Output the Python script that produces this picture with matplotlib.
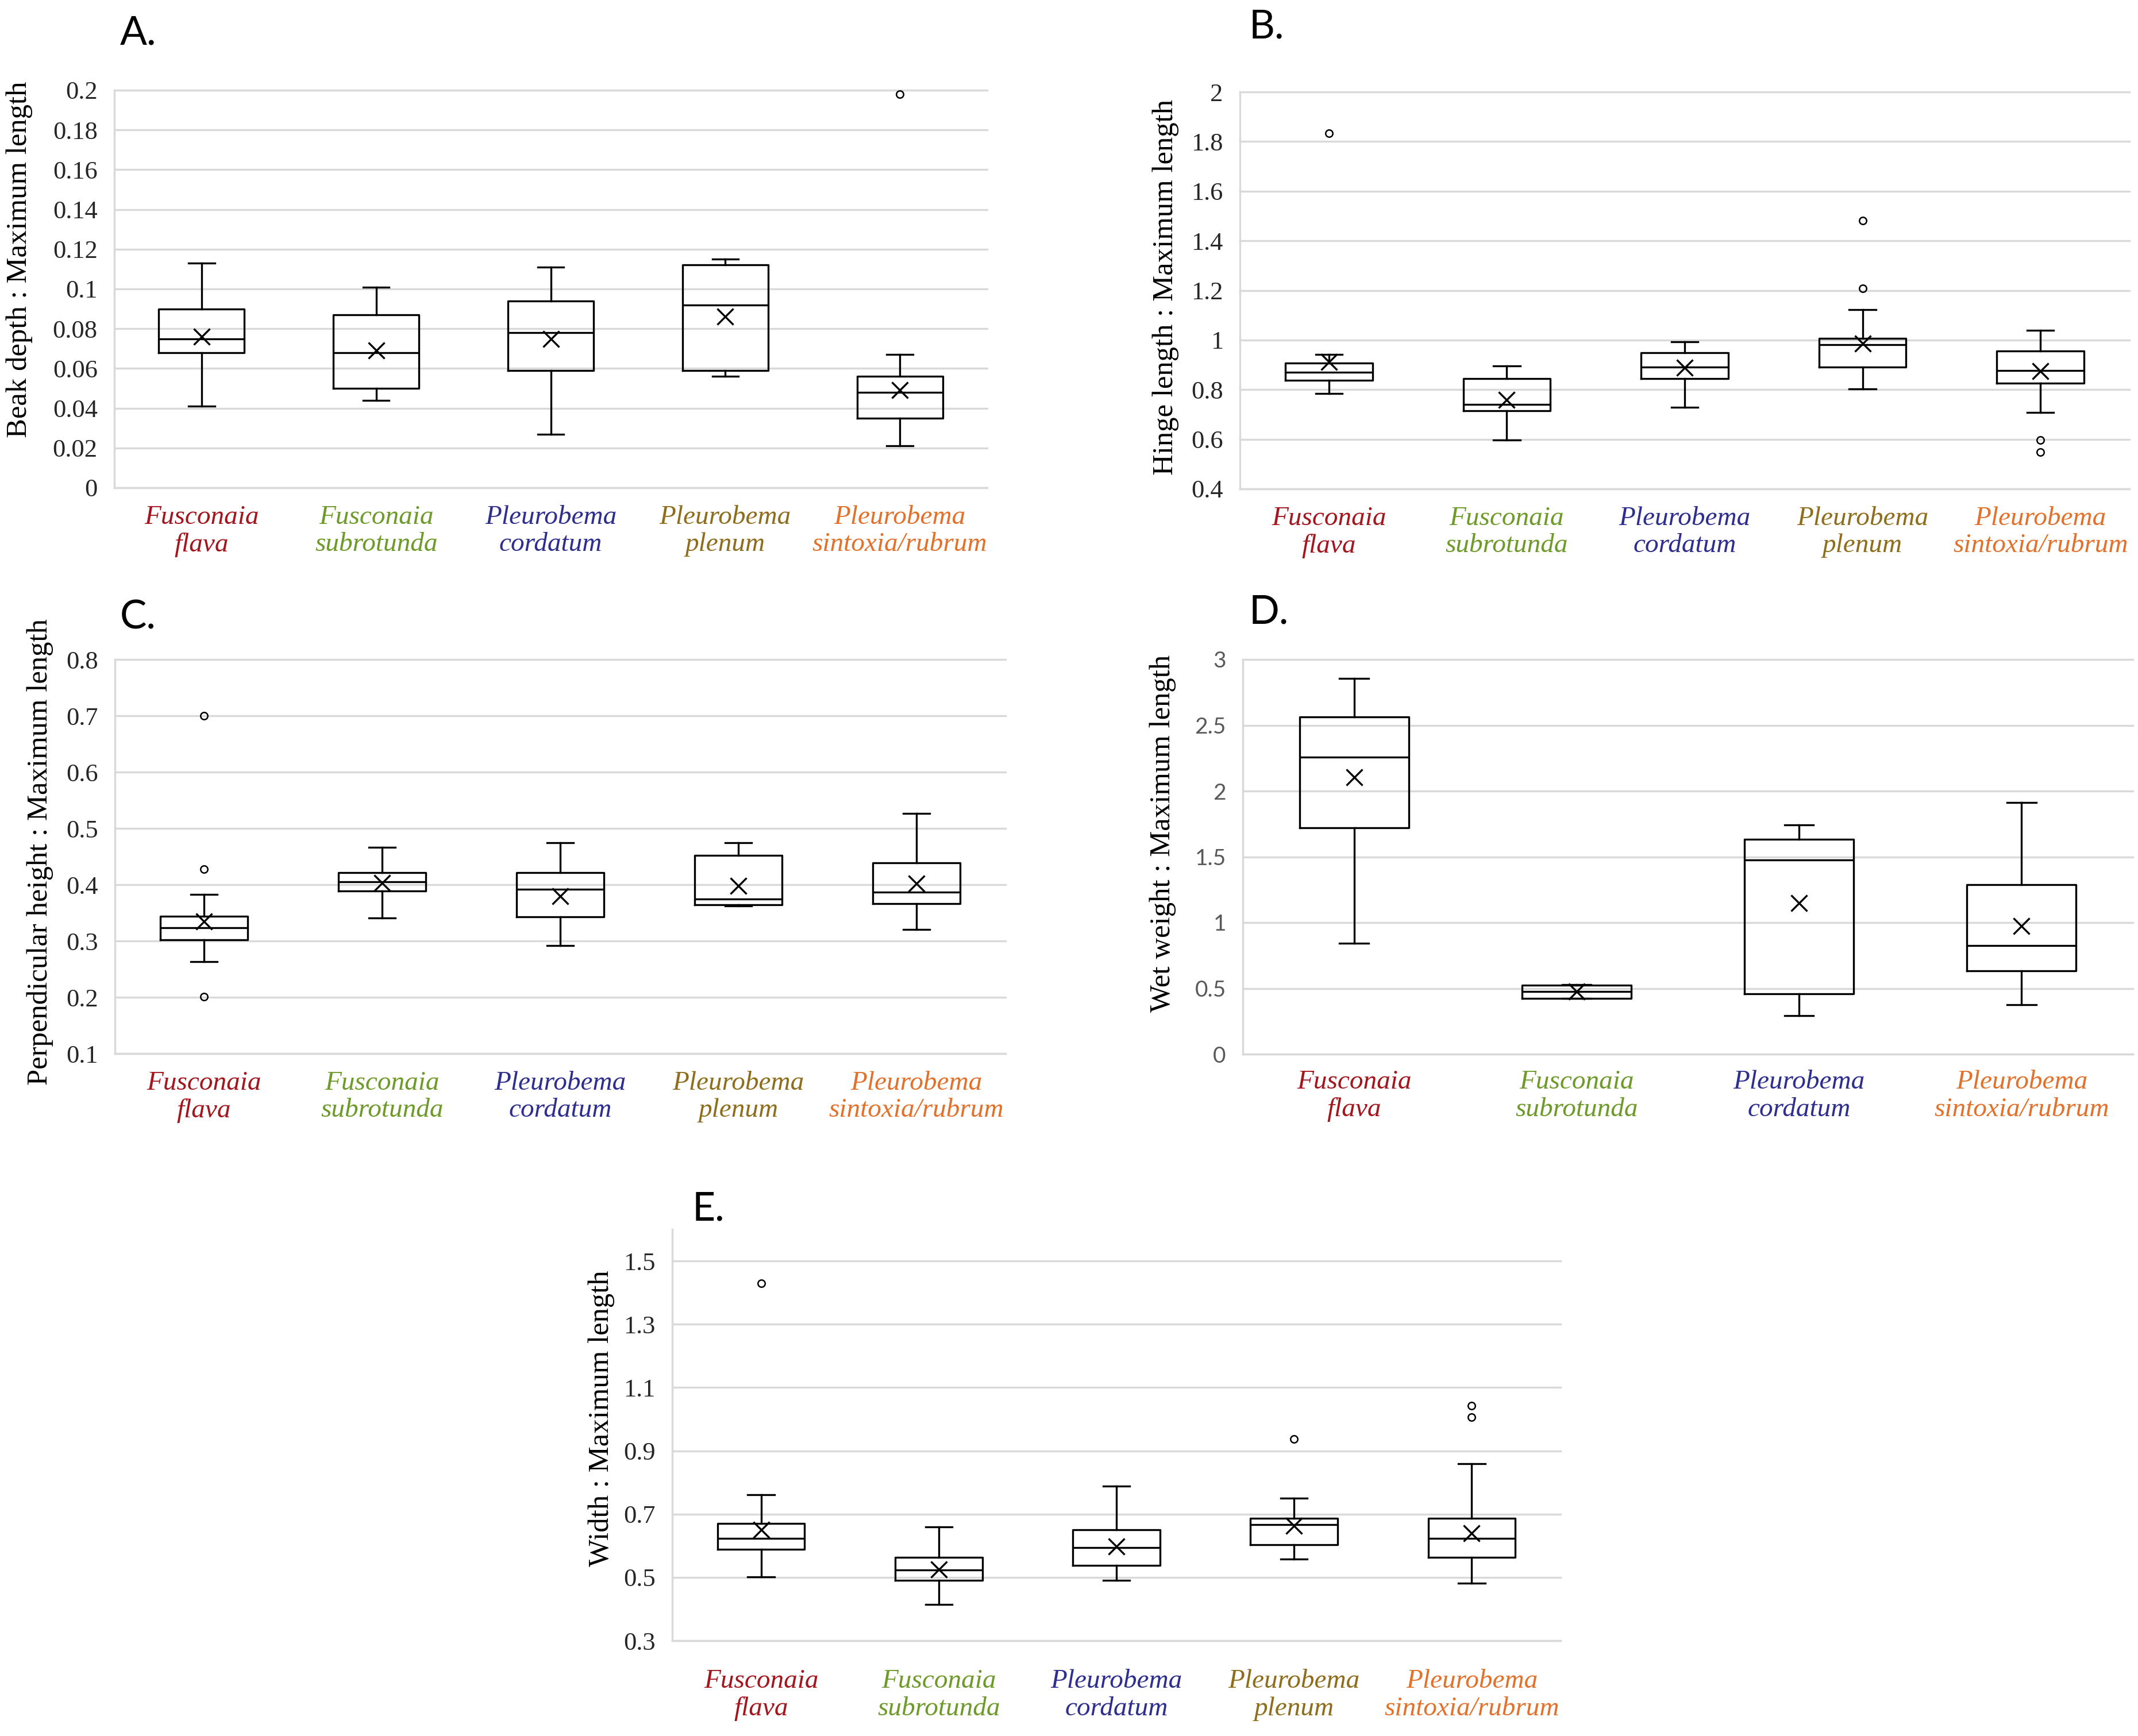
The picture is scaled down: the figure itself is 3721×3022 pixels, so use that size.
import matplotlib
matplotlib.use("Agg")
import matplotlib.pyplot as plt
from matplotlib.font_manager import FontProperties
import numpy as np

# ---------------- data ----------------
species5 = ["Fusconaia\nflava", "Fusconaia\nsubrotunda", "Pleurobema\ncordatum",
            "Pleurobema\nplenum", "Pleurobema\nsintoxia/rubrum"]
colors5 = ["#A3161E", "#6E9A2A", "#2E2E8E", "#8E6E1C", "#E2712C"]
species4 = ["Fusconaia\nflava", "Fusconaia\nsubrotunda", "Pleurobema\ncordatum",
            "Pleurobema\nsintoxia/rubrum"]
colors4 = ["#A3161E", "#6E9A2A", "#2E2E8E", "#E2712C"]

# A. Beak depth : Maximum length
a_lo   = [0.041, 0.044, 0.027, 0.056, 0.021]
a_q1   = [0.068, 0.050, 0.059, 0.059, 0.035]
a_med  = [0.075, 0.068, 0.078, 0.092, 0.048]
a_q3   = [0.090, 0.087, 0.094, 0.112, 0.056]
a_hi   = [0.113, 0.101, 0.111, 0.115, 0.067]
a_mean = [0.076, 0.069, 0.075, 0.086, 0.049]
a_out  = [[], [], [], [], [0.198]]

# B. Hinge length : Maximum length
b_lo   = [0.785, 0.597, 0.729, 0.804, 0.708]
b_q1   = [0.837, 0.714, 0.844, 0.892, 0.825]
b_med  = [0.871, 0.741, 0.892, 0.981, 0.877]
b_q3   = [0.908, 0.844, 0.948, 1.007, 0.956]
b_hi   = [0.941, 0.896, 0.993, 1.123, 1.040]
b_mean = [0.911, 0.759, 0.889, 0.985, 0.874]
b_out  = [[1.833], [], [], [1.481, 1.207], [0.597, 0.548]]

# C. Perpendicular height : Maximum length
c_lo   = [0.263, 0.341, 0.292, 0.362, 0.320]
c_q1   = [0.302, 0.389, 0.343, 0.364, 0.366]
c_med  = [0.323, 0.405, 0.392, 0.374, 0.387]
c_q3   = [0.344, 0.421, 0.421, 0.452, 0.439]
c_hi   = [0.383, 0.466, 0.475, 0.475, 0.527]
c_mean = [0.335, 0.403, 0.380, 0.398, 0.402]
c_out  = [[0.700, 0.428, 0.201], [], [], [], []]

# D. Wet weight : Maximum length
d_lo   = [0.844, 0.423, 0.292, 0.376]
d_q1   = [1.719, 0.423, 0.460, 0.632]
d_med  = [2.256, 0.474, 1.476, 0.827]
d_q3   = [2.563, 0.524, 1.635, 1.290]
d_hi   = [2.855, 0.529, 1.741, 1.914]
d_mean = [2.103, 0.474, 1.150, 0.975]
d_out  = [[], [], [], []]

# E. Width : Maximum length
e_lo   = [0.501, 0.415, 0.490, 0.557, 0.481]
e_q1   = [0.588, 0.490, 0.537, 0.603, 0.563]
e_med  = [0.624, 0.524, 0.594, 0.667, 0.624]
e_q3   = [0.671, 0.563, 0.650, 0.686, 0.686]
e_hi   = [0.762, 0.659, 0.788, 0.751, 0.859]
e_mean = [0.650, 0.526, 0.597, 0.664, 0.639]
e_out  = [[1.430], [], [], [0.938], [1.042, 1.006]]

# ---------------- figure ----------------
W, H = 3721, 3022
DPI = 100
fig = plt.figure(figsize=(W / DPI, H / DPI), dpi=DPI)
fig.patch.set_facecolor("white")

GRID = "#D9D9D9"
SERIF_FP = FontProperties(family="Liberation Serif", size=32)
ITAL_FP = FontProperties(family="Liberation Serif", style="italic", size=34)
YLAB_FP = FontProperties(family="Liberation Serif", size=36.5)
SANS_FP = FontProperties(family="Lato", size=28)
LETTER_FP = FontProperties(family="Lato", size=50)


def px_axes(x0, x1, y0, y1):
    return fig.add_axes([x0 / W, 1 - y1 / H, (x1 - x0) / W, (y1 - y0) / H])


def panel(rect, letter, letter_xy, lo, q1, med, q3, hi, mean, out, names, cols,
          ylim, yticks, yticklabels, ylabel, ylabel_xy, tick_fp, tick_color,
          xpad, capw):
    ax = px_axes(*rect)
    stats = []
    for i in range(len(names)):
        stats.append(dict(whislo=lo[i], q1=q1[i], med=med[i], q3=q3[i],
                          whishi=hi[i], mean=mean[i], fliers=out[i]))
    ax.bxp(stats, positions=np.arange(1, len(names) + 1), widths=0.49,
           capwidths=capw, showmeans=True, showfliers=True,
           boxprops=dict(color="black", linewidth=2.4),
           medianprops=dict(color="black", linewidth=2.4),
           whiskerprops=dict(color="black", linewidth=2.4),
           capprops=dict(color="black", linewidth=2.4),
           meanprops=dict(marker="x", markeredgecolor="black",
                          markerfacecolor="black", markersize=20,
                          markeredgewidth=2.4),
           flierprops=dict(marker="o", markerfacecolor="none",
                           markeredgecolor="black", markersize=9,
                           markeredgewidth=1.8),
           zorder=3)
    ax.set_xlim(0.5, len(names) + 0.5)
    ax.set_ylim(*ylim)
    ax.set_yticks(yticks)
    ax.set_yticklabels(yticklabels, fontproperties=tick_fp, color=tick_color)
    ax.set_xticks(np.arange(1, len(names) + 1))
    ax.set_xticklabels(names, fontproperties=ITAL_FP, linespacing=1.15)
    for t, c in zip(ax.get_xticklabels(), cols):
        t.set_color(c)
    ax.grid(axis="y", color=GRID, linewidth=2.4, zorder=0)
    ax.set_axisbelow(True)
    for gl in ax.get_ygridlines():
        gl.set_clip_on(False)
    for s in ["top", "right"]:
        ax.spines[s].set_visible(False)
    ax.spines["left"].set_color(GRID)
    ax.spines["left"].set_linewidth(2.4)
    ax.spines["bottom"].set_color(GRID)
    ax.spines["bottom"].set_linewidth(2.4)
    ax.tick_params(axis="both", length=0)
    ax.tick_params(axis="y", pad=21)
    ax.tick_params(axis="x", pad=xpad)
    ax.set_ylabel(ylabel, fontproperties=YLAB_FP, color="black",
                  va="center", ha="center")
    ax.yaxis.set_label_coords(ylabel_xy[0] / W, 1 - ylabel_xy[1] / H,
                              transform=fig.transFigure)
    fig.text(letter_xy[0] / W, 1 - letter_xy[1] / H, letter,
             fontproperties=LETTER_FP, ha="left", va="center", color="black")
    return ax


def fmt(vals, nd):
    out = []
    for v in vals:
        s = f"{v:.{nd}f}".rstrip("0").rstrip(".")
        out.append(s if s else "0")
    return out


a_ticks = np.round(np.arange(0, 0.2001, 0.02), 2)
panel((199, 1718, 157, 849), "A.", (209, 58),
      a_lo, a_q1, a_med, a_q3, a_hi, a_mean, a_out, species5, colors5,
      (0, 0.2), a_ticks, fmt(a_ticks, 2), "Beak depth : Maximum length",
      (34, 452), SERIF_FP, "#262626", 22, 0.15)

b_ticks = np.round(np.arange(0.4, 2.001, 0.2), 1)
panel((2158, 3706, 160, 851), "B.", (2174, 47),
      b_lo, b_q1, b_med, b_q3, b_hi, b_mean, b_out, species5, colors5,
      (0.4, 2.0), b_ticks, fmt(b_ticks, 1), "Hinge length : Maximum length",
      (2029, 500), SERIF_FP, "#262626", 22, 0.15)

c_ticks = np.round(np.arange(0.1, 0.8001, 0.1), 1)
panel((200, 1750, 1148, 1834), "C.", (209, 1075),
      c_lo, c_q1, c_med, c_q3, c_hi, c_mean, c_out, species5, colors5,
      (0.1, 0.8), c_ticks, fmt(c_ticks, 1),
      "Perpendicular height : Maximum length",
      (70, 1483), SERIF_FP, "#262626", 22, 0.15)

d_ticks = np.round(np.arange(0, 3.001, 0.5), 1)
panel((2163, 3712, 1148, 1835), "D.", (2174, 1066),
      d_lo, d_q1, d_med, d_q3, d_hi, d_mean, d_out, species4, colors4,
      (0, 3.0), d_ticks, fmt(d_ticks, 1), "Wet weight : Maximum length",
      (2024, 1451), SANS_FP, "#595959", 20, 0.13)

e_ticks = np.round(np.arange(0.3, 1.5001, 0.2), 1)
panel((1170, 2716, 2140, 2856), "E.", (1205, 2105),
      e_lo, e_q1, e_med, e_q3, e_hi, e_mean, e_out, species5, colors5,
      (0.3, 1.6), e_ticks, fmt(e_ticks, 1), "Width : Maximum length",
      (1047, 2469), SERIF_FP, "#262626", 36, 0.15)

fig.savefig("out.png", dpi=DPI, facecolor="white")
